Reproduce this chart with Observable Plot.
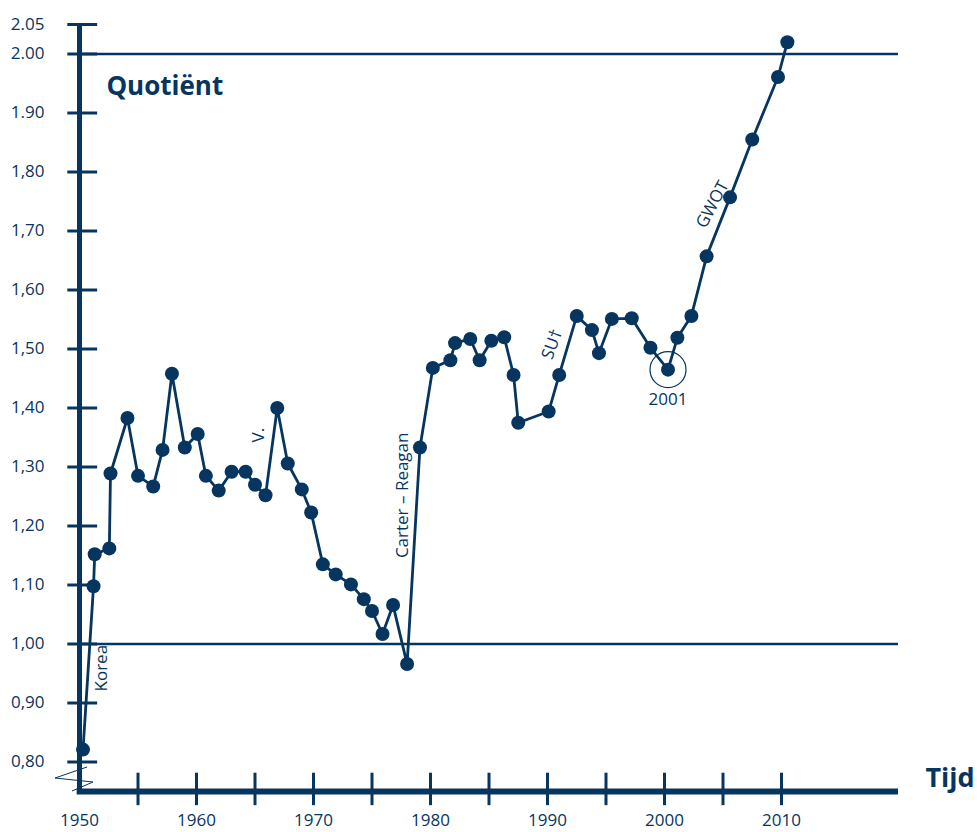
<!DOCTYPE html>
<html>
<head>
<meta charset="utf-8">
<script src="https://cdn.jsdelivr.net/npm/d3@7"></script>
<script src="https://cdn.jsdelivr.net/npm/@observablehq/plot@0.6"></script>
<style>
  html, body { margin: 0; padding: 0; background: #fff; }
</style>
</head>
<body>
<div id="chart"></div>
<script>
const navy = "#06355f";

// Data
const years = [1950.3, 1951.2, 1951.3, 1952.55, 1952.65, 1954.1, 1955.0, 1956.3, 1957.1, 1957.9,
  1959.0, 1960.1, 1960.8, 1961.9, 1963.0, 1964.2, 1965.0, 1965.9, 1966.9, 1967.8,
  1969.0, 1969.8, 1970.8, 1971.9, 1973.2, 1974.3, 1975.0, 1975.9, 1976.8, 1978.0,
  1979.1, 1980.2, 1981.7, 1982.1, 1983.4, 1984.2, 1985.2, 1986.3, 1987.1, 1987.5,
  1990.1, 1991.0, 1992.5, 1993.8, 1994.4, 1995.5, 1997.2, 1998.8, 2000.3, 2001.1,
  2002.3, 2003.6, 2005.6, 2007.5, 2009.7, 2010.5];
const quotient = [0.821, 1.098, 1.152, 1.162, 1.289, 1.383, 1.285, 1.267, 1.329, 1.458,
  1.333, 1.356, 1.285, 1.260, 1.292, 1.292, 1.270, 1.252, 1.400, 1.306,
  1.262, 1.223, 1.135, 1.118, 1.101, 1.076, 1.056, 1.017, 1.066, 0.966,
  1.333, 1.468, 1.481, 1.510, 1.517, 1.481, 1.514, 1.520, 1.456, 1.375,
  1.394, 1.456, 1.556, 1.532, 1.493, 1.551, 1.552, 1.502, 1.465, 1.519,
  1.556, 1.657, 1.757, 1.855, 1.961, 2.020];

const yTickValues = [2.05, 2.00, 1.90, 1.80, 1.70, 1.60, 1.50, 1.40, 1.30, 1.20, 1.10, 1.00, 0.90, 0.80];
const yTickLabels = ["2.05", "2.00", "1.90", "1,80", "1,70", "1,60", "1,50", "1,40", "1,30", "1,20", "1,10", "1,00", "0,90", "0,80"];
const xTickLabels = [1950, 1960, 1970, 1980, 1990, 2000, 2010];
const xTickMarks = [1955, 1960, 1965, 1970, 1975, 1980, 1985, 1990, 1995, 2000, 2005, 2010];
const refLines = [1.00, 2.00];

const annLabels = ["Korea", "V.", "Carter – Reagan", "SU†", "GWOT"];
const annYears = [1951.9, 1965.3, 1977.6, 1990.4, 2004.1];
const annValues = [0.959, 1.354, 1.252, 1.508, 1.745];
const annAngles = [-90, -90, -90, -70, -62];

const highlightYear = 2000.3;
const highlightValue = 1.465;
const highlightLabel = "2001";

const data = years.map((x, i) => ({x, y: quotient[i]}));
const annotations = annLabels.map((t, i) => ({t, x: annYears[i], y: annValues[i], a: annAngles[i]}));
const highlight = [{x: highlightYear, y: highlightValue, t: highlightLabel}];

const plot = Plot.plot({
  width: 977,
  height: 832,
  marginLeft: 79,
  marginRight: 79,
  marginTop: 24,
  marginBottom: 41,
  x: {domain: [1950, 2020]},
  y: {domain: [0.75, 2.05]},
  style: {fontFamily: "'Open Sans', 'Noto Sans', sans-serif", color: navy, background: "#fff", overflow: "visible"},
  marks: [
    Plot.ruleY(refLines, {x1: 1950, x2: 2020, stroke: navy, strokeWidth: 2.5}),
    Plot.ruleY(yTickValues, {x1: 1949, x2: 1951.55, stroke: navy, strokeWidth: 3}),
    Plot.ruleX(xTickMarks, {y1: 0.781, y2: 0.726, stroke: navy, strokeWidth: 3}),
    Plot.ruleX([1950], {y1: 0.75, y2: 2.05, stroke: navy, strokeWidth: 5}),
    Plot.ruleY([0.75], {x1: 1949.8, x2: 2020, stroke: navy, strokeWidth: 6}),
    Plot.axisY({ticks: yTickValues, tickFormat: d => yTickLabels[yTickValues.indexOf(d)], tickSize: 0, tickPadding: 35, fontSize: 17, fill: navy, label: null}),
    Plot.axisX({ticks: xTickLabels, tickFormat: d => String(d), tickSize: 0, tickPadding: 22, fontSize: 17, fill: navy, label: null}),
    Plot.line(data, {x: "x", y: "y", stroke: navy, strokeWidth: 2.8}),
    Plot.dot(data, {x: "x", y: "y", r: 7, fill: navy}),
    Plot.dot(highlight, {x: "x", y: "y", r: 18, fill: "none", stroke: navy, strokeWidth: 1.2}),
    Plot.text(highlight, {x: "x", y: "y", text: "t", dy: 30, fontSize: 17, fill: navy}),
    Plot.text(annotations, {x: "x", y: "y", text: "t", rotate: "a", fontSize: 17, fill: navy}),
    Plot.text(["Quotiënt"], {x: 1952.3, y: 1.944, text: d => d, textAnchor: "start", fontSize: 26, fontWeight: 700, fill: navy}),
    Plot.text(["Tijd"], {x: 2022.3, y: 0.772, text: d => d, textAnchor: "start", fontSize: 27, fontWeight: 700, fill: navy})
  ]
});

// axis-break zigzag drawn relative to the axis origin
const sx = plot.scale("x"), sy = plot.scale("y");
const ox = sx.apply(1950), oy = sy.apply(0.75);
d3.select(plot).append("path")
  .attr("d", `M${ox + 8},${oy - 24} L${ox - 24},${oy - 13} L${ox + 14},${oy - 9} L${ox - 7},${oy}`)
  .attr("fill", "none")
  .attr("stroke", navy)
  .attr("stroke-width", 1);

document.getElementById("chart").appendChild(plot);
</script>
</body>
</html>
